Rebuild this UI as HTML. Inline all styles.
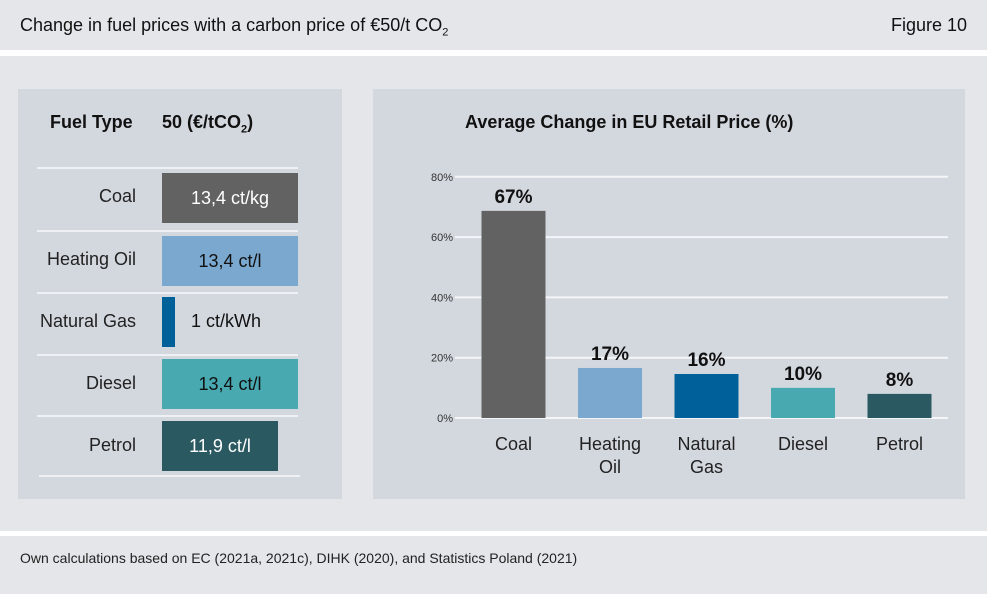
<!DOCTYPE html>
<html><head><meta charset="utf-8"><style>
body{margin:0;width:987px;height:594px;background:#fff;font-family:"Liberation Sans",sans-serif;position:relative;overflow:hidden}
div{position:absolute;box-sizing:border-box}
.band{background:#e4e6ea}
.panel{background:#d3d8df}
.line{height:2px;background:#eef0f3}
.lab{font-size:18px;color:#222;text-align:right;width:100px;left:36px}
.box{height:50px;font-size:18px;line-height:50px;text-align:center}
</style></head><body>
<div class="band" style="left:0;top:0;width:987px;height:50px"></div>
<div style="left:20px;top:15px;font-size:18px;color:#111">Change in fuel prices with a carbon price of €50/t CO<sub style="font-size:11px">2</sub></div>
<div style="right:20px;top:15px;font-size:18px;color:#111">Figure 10</div>
<div class="band" style="left:0;top:56px;width:987px;height:475px"></div>
<div class="band" style="left:0;top:536px;width:987px;height:58px"></div>
<div style="left:20px;top:550px;font-size:14px;color:#222">Own calculations based on EC (2021a, 2021c), DIHK (2020), and Statistics Poland (2021)</div>

<div class="panel" style="left:18px;top:89px;width:324px;height:410px"></div>
<div style="left:50px;top:112px;font-size:18px;font-weight:bold;color:#111">Fuel Type</div>
<div style="left:162px;top:112px;font-size:18px;font-weight:bold;color:#111">50 (€/tCO<sub style="font-size:11px">2</sub>)</div>
<div class="line" style="left:37px;top:167px;width:261px"></div>
<div class="line" style="left:37px;top:230px;width:261px"></div>
<div class="line" style="left:37px;top:292px;width:261px"></div>
<div class="line" style="left:37px;top:354px;width:261px"></div>
<div class="line" style="left:39px;top:475px;width:261px"></div>
<div class="line" style="left:37px;top:415px;width:261px"></div>
<div class="lab" style="top:186px">Coal</div>
<div class="box" style="left:162px;top:173px;width:136px;background:#636262;color:#fff">13,4 ct/kg</div>
<div class="lab" style="top:249px">Heating Oil</div>
<div class="box" style="left:162px;top:236px;width:136px;background:#7aa8cf;color:#111">13,4 ct/l</div>
<div class="lab" style="top:311px;width:110px;left:26px">Natural Gas</div>
<div class="box" style="left:162px;top:297px;width:13px;background:#00609a"></div>
<div style="left:191px;top:311px;font-size:18px;color:#111">1 ct/kWh</div>
<div class="lab" style="top:373px">Diesel</div>
<div class="box" style="left:162px;top:359px;width:136px;background:#48a9b1;color:#111">13,4 ct/l</div>
<div class="lab" style="top:435px">Petrol</div>
<div class="box" style="left:162px;top:421px;width:116px;background:#2a5961;color:#fff">11,9 ct/l</div>

<div class="panel" style="left:373px;top:89px;width:592px;height:410px"></div>
<div style="left:465px;top:112px;font-size:18px;font-weight:bold;color:#111">Average Change in EU Retail Price (%)</div>
<svg id="chart" style="position:absolute;left:0;top:0" width="987" height="594" font-family="Liberation Sans, sans-serif"></svg>
<script>
const categories=[["Coal"],["Heating","Oil"],["Natural","Gas"],["Diesel"],["Petrol"]];
const values=[68.7,16.6,14.6,10,8];
const valueLabels=["67%","17%","16%","10%","8%"];
const ticks=[0,20,40,60,80];
const colors=["#636262","#7aa8cf","#00609a","#48a9b1","#2a5961"];
const svg=document.getElementById('chart');
const NS='http://www.w3.org/2000/svg';
const y=v=>418-v*3.015;
const xc=i=>513.5+i*96.5;
function mk(t,a,txt){const e=document.createElementNS(NS,t);for(const k in a)e.setAttribute(k,a[k]);if(txt!==undefined)e.textContent=txt;svg.appendChild(e);return e;}
ticks.forEach(t=>{
 const l=mk('line',{x1:455,x2:948,y1:y(t),y2:y(t),stroke:'#f4f5f7','stroke-width':2});
 
 
 const tx=mk('text',{x:453-0,y:y(t)+4,'font-size':11,fill:'#333','text-anchor':'end'},t+'%');
 tx.setAttribute('x',453);
 
 
});
values.forEach((v,i)=>{
 const r=mk('rect',{x:xc(i)-32,y:y(v),width:64,height:y(0)-y(v),fill:colors[i]});
 
 
 const t=mk('text',{x:xc(i),y:y(v)-8,'font-size':19,'font-weight':'bold',fill:'#111','text-anchor':'middle'},valueLabels[i]);
 
 
 categories[i].forEach((s,j)=>{
  const c=mk('text',{x:xc(i),y:450+j*23,'font-size':18,fill:'#222','text-anchor':'middle'},s);
  
  
 });
});
</script>
</body></html>
